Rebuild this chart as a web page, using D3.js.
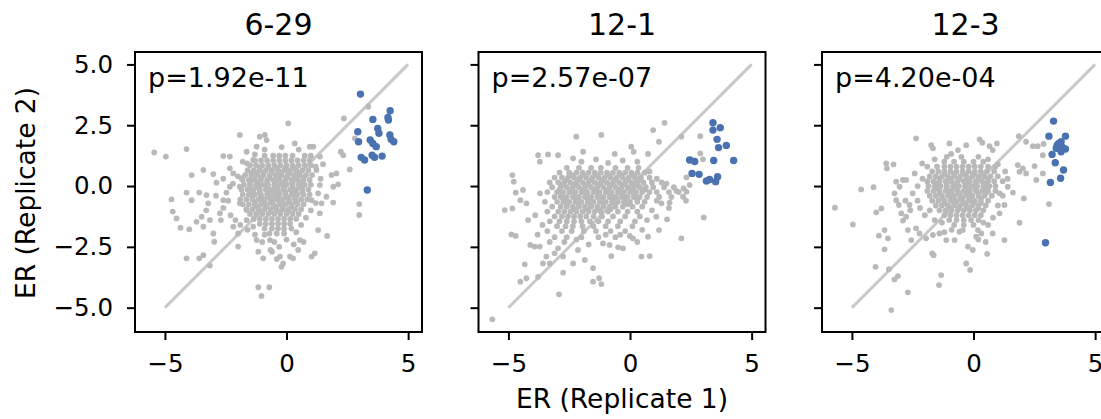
<!DOCTYPE html>
<html>
<head>
<meta charset="utf-8">
<script src="https://cdn.jsdelivr.net/npm/d3@7"></script>
<style>
  body { margin: 0; background: #fff; }
  text { font-family: 'DejaVu Sans', sans-serif; fill: #000; }
</style>
</head>
<body>
<div id="chart"></div>
<script>
// panel titles, p values and tick values
const panelTitles = ['6-29', '12-1', '12-3'];
const pLabels = ['p=1.92e-11', 'p=2.57e-07', 'p=4.20e-04'];
const xTicks = [-5, 0, 5];
const yTicks = [-5, -2.5, 0, 2.5, 5];
const diagonal = [[-5, -5], [5, 5]];

// 6-29: gray = all guides, blue = hits
const gray629 = [
    [-5.44, 1.38], [-4.96, 1.21], [-4.11, 1.52], [-4.73, -0.55], [-4.68, -1.05], [-4.52, -1.33],
    [-4.36, -1.71], [-4.0, -1.78], [-4.11, -2.97], [-3.59, -2.97], [-3.42, -2.84], [-3.15, -3.27],
    [-3.9, 0.45], [-4.11, -0.27], [-3.9, -0.58], [-3.42, 0.66], [-3.59, -0.27], [-3.01, 0.49],
    [-2.88, 0.14], [-3.29, -0.37], [-3.22, -0.71], [-3.49, -1.26], [-3.7, -1.47], [-3.42, -1.67],
    [-3.15, -1.4], [-3.01, -1.95], [-2.97, -2.29], [-2.74, -1.12], [-2.6, -0.58], [-2.47, -0.27],
    [-2.6, 1.23], [-2.33, 1.21], [-1.92, 2.1], [-1.64, 1.41], [-1.62, 0.93], [-2.19, 0.52],
    [-2.19, -1.67], [-1.99, -1.95], [-1.99, -2.49], [-1.23, 1.62], [-1.1, 2.03], [-0.89, 2.1],
    [-0.82, 1.89], [-1.23, -2.22], [-1.16, -2.7], [-0.96, -2.97], [-0.68, -2.22], [-0.66, -2.63],
    [-0.27, -2.9], [-0.21, -3.32], [-0.14, -3.18], [0.14, -2.9], [0.27, -2.97], [0.48, -2.63],
    [0.55, -2.22], [1.03, -2.9], [1.16, -2.77], [1.37, -1.12], [1.67, -2.05], [1.3, -1.81],
    [-1.16, -4.16], [-0.71, -4.16], [-1.03, -4.52], [0.07, 2.58], [0.34, 1.75], [0.96, 1.62],
    [1.1, 1.62], [1.37, 1.21], [1.85, 0.45], [1.92, -0.03], [2.12, 0.07], [1.92, -0.68],
    [2.23, 1.41], [2.33, 1.27], [2.36, 2.78], [2.6, 0.68], [2.81, 1.96], [2.99, -0.74],
    [2.99, -1.19], [3.36, 3.26], [2.05, 0.52], [1.23, 0.66], [1.37, 0.04], [1.44, -0.71],
    [1.03, -0.58], [1.64, -0.44], [-2.33, 0.73], [-2.33, -0.03], [-1.92, -0.03], [-1.92, -0.71],
    [-1.64, -0.99], [-1.64, -1.4], [-1.37, -1.67], [-1.44, 0.52], [-1.37, 1.07], [-1.85, 0.32],
    [-2.6, -0.9], [-2.3, -1.2], [-2.1, -1.4], [-2.4, -0.6], [-2.2, 0.1], [-2.0, 0.4],
    [-1.9, -1.6], [-1.6, -1.8], [-1.3, -2.0], [-1.0, -2.3], [-0.9, -2.0], [-0.5, -2.3],
    [-0.3, -2.5], [0.0, -2.2], [0.3, -2.4], [0.4, -1.9], [0.6, -1.6], [0.8, -1.3],
    [1.0, -1.0], [1.2, -0.7], [1.3, -0.3], [1.4, 0.3], [1.2, 0.8], [1.5, 0.9],
    [0.5, 1.5], [-0.2, 1.6], [-0.9, 1.5], [-1.3, 1.3], [-1.8, 1.0], [-2.6, 0.3],
    [-2.9, -0.4], [-2.7, -1.4], [-3.3, -1.0], [-0.6, -2.7], [-0.4, -3.0], [0.7, -2.3],
    // dense centre
    [-0.9, 1.25], [-0.55, 1.25], [-0.3, 1.25], [-0.05, 1.25], [0.25, 1.25], [0.75, 1.25], [1.0, 1.25],
    [-1.3, 1.05], [-1.05, 1.05], [-0.8, 1.05], [-0.55, 1.05], [-0.3, 1.05], [-0.05, 1.05], [0.2, 1.05],
    [0.45, 1.05], [0.7, 1.05], [0.95, 1.05],
    [-1.5, 0.85], [-1.25, 0.85], [-1.0, 0.85], [-0.75, 0.85], [-0.5, 0.85], [-0.25, 0.85], [0.0, 0.85],
    [0.25, 0.85], [0.5, 0.85], [0.75, 0.85], [1.0, 0.85],
    [-1.6, 0.65], [-1.35, 0.65], [-1.1, 0.65], [-0.85, 0.65], [-0.6, 0.65], [-0.35, 0.65], [-0.1, 0.65],
    [0.15, 0.65], [0.4, 0.65], [0.65, 0.65], [0.9, 0.65],
    [-1.7, 0.45], [-1.45, 0.45], [-1.2, 0.45], [-0.95, 0.45], [-0.7, 0.45], [-0.45, 0.45], [-0.2, 0.45],
    [0.05, 0.45], [0.3, 0.45], [0.55, 0.45], [0.8, 0.45], [1.05, 0.45],
    [-1.8, 0.25], [-1.55, 0.25], [-1.3, 0.25], [-1.05, 0.25], [-0.8, 0.25], [-0.55, 0.25], [-0.3, 0.25],
    [-0.05, 0.25], [0.2, 0.25], [0.45, 0.25], [0.7, 0.25], [0.95, 0.25],
    [-1.75, 0.05], [-1.5, 0.05], [-1.25, 0.05], [-1.0, 0.05], [-0.75, 0.05], [-0.5, 0.05], [-0.25, 0.05],
    [0.0, 0.05], [0.25, 0.05], [0.5, 0.05], [0.75, 0.05], [1.0, 0.05],
    [-1.85, -0.15], [-1.6, -0.15], [-1.35, -0.15], [-1.1, -0.15], [-0.85, -0.15], [-0.6, -0.15], [-0.35, -0.15],
    [-0.1, -0.15], [0.15, -0.15], [0.4, -0.15], [0.65, -0.15], [0.9, -0.15],
    [-1.8, -0.35], [-1.55, -0.35], [-1.3, -0.35], [-1.05, -0.35], [-0.8, -0.35], [-0.55, -0.35], [-0.3, -0.35],
    [-0.05, -0.35], [0.2, -0.35], [0.45, -0.35], [0.7, -0.35], [0.95, -0.35],
    [-1.9, -0.55], [-1.65, -0.55], [-1.4, -0.55], [-1.15, -0.55], [-0.9, -0.55], [-0.65, -0.55], [-0.4, -0.55],
    [-0.15, -0.55], [0.1, -0.55], [0.35, -0.55], [0.6, -0.55], [0.85, -0.55],
    [-1.8, -0.75], [-1.55, -0.75], [-1.3, -0.75], [-1.05, -0.75], [-0.8, -0.75], [-0.55, -0.75], [-0.3, -0.75],
    [-0.05, -0.75], [0.2, -0.75], [0.45, -0.75], [0.7, -0.75],
    [-1.65, -0.95], [-1.4, -0.95], [-1.15, -0.95], [-0.9, -0.95], [-0.65, -0.95], [-0.4, -0.95], [-0.15, -0.95],
    [0.1, -0.95], [0.35, -0.95], [0.6, -0.95],
    [-1.5, -1.15], [-1.25, -1.15], [-1.0, -1.15], [-0.75, -1.15], [-0.5, -1.15], [-0.25, -1.15], [0.0, -1.15],
    [0.25, -1.15], [0.5, -1.15],
    [-1.35, -1.35], [-1.1, -1.35], [-0.85, -1.35], [-0.6, -1.35], [-0.35, -1.35], [-0.1, -1.35], [0.15, -1.35],
    [0.4, -1.35],
    [-1.1, -1.55], [-0.85, -1.55], [-0.6, -1.55], [-0.35, -1.55], [-0.1, -1.55], [0.15, -1.55],
    [-0.9, -1.75], [-0.6, -1.75], [-0.35, -1.75], [-0.1, -1.75], [0.2, -1.75],
    [-0.7, -1.95], [-0.4, -1.95], [-0.1, -1.95],
    // overlapping points in the middle of the cloud
    [-1.1, 0.75], [-0.75, 0.75], [-0.4, 0.75], [-0.05, 0.75], [0.3, 0.75],
    [-1.3, 0.55], [-0.95, 0.55], [-0.6, 0.55], [-0.25, 0.55], [0.1, 0.55], [0.45, 0.55],
    [-1.4, 0.35], [-1.05, 0.35], [-0.7, 0.35], [-0.35, 0.35], [0.0, 0.35], [0.35, 0.35], [0.7, 0.35],
    [-1.5, 0.15], [-1.15, 0.15], [-0.8, 0.15], [-0.45, 0.15], [-0.1, 0.15], [0.25, 0.15], [0.6, 0.15],
    [-1.5, -0.05], [-1.15, -0.05], [-0.8, -0.05], [-0.45, -0.05], [-0.1, -0.05], [0.25, -0.05], [0.6, -0.05],
    [-1.45, -0.25], [-1.1, -0.25], [-0.75, -0.25], [-0.4, -0.25], [-0.05, -0.25], [0.3, -0.25], [0.65, -0.25],
    [-1.4, -0.45], [-1.05, -0.45], [-0.7, -0.45], [-0.35, -0.45], [0.0, -0.45], [0.35, -0.45],
    [-1.3, -0.65], [-0.95, -0.65], [-0.6, -0.65], [-0.25, -0.65], [0.1, -0.65], [0.4, -0.65],
    [-1.2, -0.85], [-0.85, -0.85], [-0.5, -0.85], [-0.15, -0.85], [0.2, -0.85],
    [-1.0, -1.05], [-0.65, -1.05], [-0.3, -1.05], [0.05, -1.05]
];
const blue629 = [
    [3.04, 3.78], [4.26, 3.1], [3.55, 2.74], [4.17, 2.82], [4.19, 2.71], [3.75, 2.37], [2.93, 2.23],
    [3.8, 2.17], [2.96, 1.82], [3.44, 1.89], [3.55, 1.75], [3.69, 1.62], [4.25, 2.1], [4.3, 1.92],
    [4.41, 1.82], [3.07, 1.18], [3.21, 1.07], [3.52, 1.27], [3.62, 1.18], [3.93, 1.23], [3.32, -0.16]
];

// 12-1
const gray121 = [
    [-5.66, -5.48], [-5.15, -0.99], [-4.84, -0.92], [-4.88, -1.99], [-4.7, -2.05], [-4.51, -3.93],
    [-4.26, -3.79], [-4.33, -3.22], [-4.84, 0.45], [-4.78, 0.18], [-4.7, -0.27], [-4.51, -0.58],
    [-4.4, -0.16], [-4.26, -0.71], [-4.19, -1.4], [-4.1, -2.42], [-3.92, -2.49], [-3.78, -3.73],
    [-3.78, 1.27], [-3.71, 1.0], [-3.37, 1.3], [-2.96, 1.27], [-2.92, -4.45], [-2.75, -3.56],
    [-2.21, 2.03], [-2.34, 1.14], [-1.93, 1.41], [-1.18, 2.1], [-0.63, 1.32], [0.05, 1.62],
    [0.15, 1.41], [0.74, 1.32], [0.95, 2.3], [1.42, 2.6], [1.19, 1.82], [2.11, 2.03],
    [2.89, 2.05], [2.89, 1.34], [3.0, 1.1], [2.52, 1.1], [2.32, 0.36], [2.45, 0.04],
    [2.32, -0.23], [2.18, -0.44], [3.03, -1.29], [2.11, -2.15], [1.52, -1.37], [1.29, -0.71],
    [1.63, -0.68], [1.08, -1.26], [1.19, -1.81], [0.74, -2.08], [0.81, -2.88], [0.47, -2.9],
    [0.12, -2.15], [-0.49, -2.52], [-0.77, -2.88], [-1.52, -3.38], [-1.27, -3.79], [-1.18, -4.03],
    [-1.52, -3.93], [-1.86, -3.04], [-2.34, -3.18], [-2.14, -2.63], [-3.3, -3.18], [-2.75, -2.9],
    [-3.1, -2.77], [-3.58, -3.18], [-3.44, -2.9], [-3.71, -2.49], [-2.96, -2.56], [-1.11, -2.36],
    [-0.84, -2.42], [-0.29, -2.56], [-0.01, -2.05],
    [-2.0, 1.0], [-1.4, 1.1], [-0.9, 0.95], [-0.3, 1.05], [0.3, 1.0], [0.8, 0.6],
    [1.1, 0.3], [1.5, 0.1], [1.9, -0.2], [2.2, -0.1], [2.3, -0.6], [1.6, -0.9],
    [1.1, -0.6], [0.9, -1.0], [0.7, -1.4], [0.5, -1.8], [-3.7, -0.3], [-3.9, -1.2],
    [-3.6, -1.6], [-3.8, -2.0], [-3.3, -2.3], [-2.7, -2.3], [-2.2, -2.2], [-1.7, -2.4],
    [-1.0, -2.0], [-0.4, -2.0], [0.3, -2.3],
    // dense centre
    [-2.6, 0.75], [-2.1, 0.75], [-1.6, 0.75], [-1.2, 0.75], [-0.6, 0.75], [-0.1, 0.75], [0.35, 0.75],
    [-2.9, 0.55], [-2.5, 0.55], [-2.2, 0.55], [-1.95, 0.55], [-1.7, 0.55], [-1.45, 0.55], [-1.2, 0.55],
    [-0.95, 0.55], [-0.7, 0.55], [-0.45, 0.55], [-0.2, 0.55], [0.05, 0.55], [0.3, 0.55], [0.6, 0.55],
    [-3.1, 0.35], [-2.8, 0.35], [-2.55, 0.35], [-2.3, 0.35], [-2.05, 0.35], [-1.8, 0.35], [-1.55, 0.35],
    [-1.3, 0.35], [-1.05, 0.35], [-0.8, 0.35], [-0.55, 0.35], [-0.3, 0.35], [-0.05, 0.35], [0.2, 0.35],
    [0.45, 0.35], [0.8, 0.35],
    [-3.3, 0.15], [-2.95, 0.15], [-2.7, 0.15], [-2.45, 0.15], [-2.2, 0.15], [-1.95, 0.15], [-1.7, 0.15],
    [-1.45, 0.15], [-1.2, 0.15], [-0.95, 0.15], [-0.7, 0.15], [-0.45, 0.15], [-0.2, 0.15], [0.05, 0.15],
    [0.3, 0.15], [0.55, 0.15], [0.9, 0.15], [1.3, 0.15],
    [-3.2, -0.05], [-2.85, -0.05], [-2.6, -0.05], [-2.35, -0.05], [-2.1, -0.05], [-1.85, -0.05], [-1.6, -0.05],
    [-1.35, -0.05], [-1.1, -0.05], [-0.85, -0.05], [-0.6, -0.05], [-0.35, -0.05], [-0.1, -0.05], [0.15, -0.05],
    [0.4, -0.05], [0.65, -0.05], [0.95, -0.05], [1.4, -0.05], [1.8, -0.05],
    [-3.4, -0.25], [-3.0, -0.25], [-2.75, -0.25], [-2.5, -0.25], [-2.25, -0.25], [-2.0, -0.25], [-1.75, -0.25],
    [-1.5, -0.25], [-1.25, -0.25], [-1.0, -0.25], [-0.75, -0.25], [-0.5, -0.25], [-0.25, -0.25], [0.0, -0.25],
    [0.25, -0.25], [0.5, -0.25], [0.8, -0.25], [1.1, -0.25], [1.6, -0.25], [2.0, -0.25],
    [-3.1, -0.45], [-2.85, -0.45], [-2.6, -0.45], [-2.35, -0.45], [-2.1, -0.45], [-1.85, -0.45], [-1.6, -0.45],
    [-1.35, -0.45], [-1.1, -0.45], [-0.85, -0.45], [-0.6, -0.45], [-0.35, -0.45], [-0.1, -0.45], [0.15, -0.45],
    [0.4, -0.45], [0.7, -0.45], [1.2, -0.45], [1.7, -0.45],
    [-3.5, -0.65], [-3.0, -0.65], [-2.75, -0.65], [-2.5, -0.65], [-2.25, -0.65], [-2.0, -0.65], [-1.75, -0.65],
    [-1.5, -0.65], [-1.25, -0.65], [-1.0, -0.65], [-0.75, -0.65], [-0.5, -0.65], [-0.25, -0.65], [0.0, -0.65],
    [0.3, -0.65], [0.6, -0.65],
    [-3.2, -0.85], [-2.85, -0.85], [-2.6, -0.85], [-2.35, -0.85], [-2.1, -0.85], [-1.85, -0.85], [-1.6, -0.85],
    [-1.35, -0.85], [-1.1, -0.85], [-0.85, -0.85], [-0.6, -0.85], [-0.3, -0.85], [0.1, -0.85], [0.5, -0.85],
    [-3.4, -1.05], [-2.95, -1.05], [-2.7, -1.05], [-2.45, -1.05], [-2.2, -1.05], [-1.95, -1.05], [-1.7, -1.05],
    [-1.45, -1.05], [-1.2, -1.05], [-0.9, -1.05], [-0.5, -1.05], [-0.1, -1.05], [0.3, -1.05],
    [-3.1, -1.25], [-2.8, -1.25], [-2.55, -1.25], [-2.3, -1.25], [-2.05, -1.25], [-1.8, -1.25], [-1.5, -1.25],
    [-1.15, -1.25], [-0.7, -1.25], [-0.2, -1.25], [0.4, -1.25],
    [-3.3, -1.45], [-2.9, -1.45], [-2.6, -1.45], [-2.3, -1.45], [-2.0, -1.45], [-1.65, -1.45], [-1.3, -1.45],
    [-0.9, -1.45], [-0.4, -1.45], [0.2, -1.45],
    [-3.0, -1.65], [-2.65, -1.65], [-2.35, -1.65], [-1.95, -1.65], [-1.5, -1.65], [-1.0, -1.65], [-0.5, -1.65],
    [0.1, -1.65],
    [-3.4, -1.85], [-2.8, -1.85], [-2.4, -1.85], [-1.9, -1.85], [-1.4, -1.85], [-0.8, -1.85], [-0.2, -1.85],
    [-3.1, -2.1], [-2.6, -2.1], [-2.0, -2.1], [-1.3, -2.1], [-0.6, -2.1],
    // overlapping points in the middle of the cloud
    [-2.4, 0.45], [-1.9, 0.45], [-1.4, 0.45], [-0.9, 0.45], [-0.4, 0.45], [0.1, 0.45],
    [-2.6, 0.25], [-2.1, 0.25], [-1.6, 0.25], [-1.1, 0.25], [-0.6, 0.25], [-0.1, 0.25], [0.4, 0.25],
    [-2.8, 0.05], [-2.3, 0.05], [-1.8, 0.05], [-1.3, 0.05], [-0.8, 0.05], [-0.3, 0.05], [0.2, 0.05],
    [-2.9, -0.15], [-2.4, -0.15], [-1.9, -0.15], [-1.4, -0.15], [-0.9, -0.15], [-0.4, -0.15], [0.1, -0.15], [0.6, -0.15],
    [-2.8, -0.35], [-2.3, -0.35], [-1.8, -0.35], [-1.3, -0.35], [-0.8, -0.35], [-0.3, -0.35], [0.2, -0.35],
    [-2.7, -0.55], [-2.2, -0.55], [-1.7, -0.55], [-1.2, -0.55], [-0.7, -0.55], [-0.2, -0.55], [0.3, -0.55],
    [-2.6, -0.75], [-2.1, -0.75], [-1.6, -0.75], [-1.1, -0.75], [-0.6, -0.75], [-0.1, -0.75],
    [-2.3, -0.95], [-1.8, -0.95], [-1.3, -0.95], [-0.8, -0.95]
];
const blue121 = [
    [3.41, 2.6], [3.71, 2.4], [3.41, 2.3], [3.58, 1.92], [3.96, 1.67], [3.64, 1.58], [2.45, 1.07],
    [2.66, 1.01], [3.44, 1.05], [4.26, 1.05], [2.55, 0.52], [2.84, 0.48], [3.14, 0.21], [3.27, 0.27],
    [3.52, 0.18], [3.6, 0.38]
];

// 12-3
const gray123 = [
    [-5.7, -0.89], [-4.96, -1.58], [-4.62, -0.14], [-4.11, -0.05], [-4.0, -1.08], [-3.79, -0.92],
    [-3.89, -2.04], [-3.66, -1.81], [-3.52, -2.15], [-3.66, -2.6], [-4.03, -3.32], [-3.48, -3.42],
    [-3.25, -3.84], [-3.11, -3.7], [-3.38, -5.1], [-2.7, -4.37], [-3.59, 0.93], [-3.56, 0.73],
    [-3.29, 0.89], [-3.18, 0.18], [-3.04, -0.03], [-3.25, -0.3], [-3.18, -0.58], [-2.9, 0.25],
    [-2.77, 0.25], [-2.97, -1.12], [-2.77, -1.26], [-2.9, -1.42], [-3.07, -0.78], [-2.63, -0.78],
    [-2.7, -1.81], [-2.36, -1.74], [-2.22, -1.95], [-2.56, -2.22], [-2.36, 1.96], [-2.42, 0.52],
    [-2.11, 0.93], [-1.74, 1.68], [-1.67, 1.55], [-0.99, 1.75], [-0.92, 1.32], [-0.64, 1.48],
    [-0.3, 1.68], [0.25, 1.92], [0.36, 1.78], [0.66, 1.64], [0.96, 1.75], [0.79, 1.48],
    [1.86, 2.05], [2.16, 1.82], [2.44, 1.64], [2.64, 1.64], [2.88, 1.73], [2.85, 1.27],
    [1.82, 0.86], [1.89, 0.59], [2.16, 0.52], [2.03, 0.73], [2.51, 0.82], [2.85, 0.52],
    [2.58, 0.25], [1.62, -0.27], [2.07, -0.51], [3.1, -0.74], [1.89, -1.51], [1.27, -2.22],
    [0.56, -2.79], [-0.14, -3.45], [-0.3, -3.18], [-1.33, -3.66], [-1.42, -4.07], [-1.7, -2.77],
    [-1.64, -2.84], [-1.12, -2.22], [-0.78, -2.22], [-0.23, -2.49], [-0.03, -2.63], [0.32, -1.95],
    [0.11, -2.08], [0.18, -1.81], [0.79, -1.95], [1.07, -1.12], [1.27, -0.78], [1.41, -0.03],
    [1.07, -0.3], [-1.95, -2.15], [-1.67, -2.01], [-1.4, -1.95], [-0.44, -1.81], [-0.58, -1.88],
    [-2.5, -0.3], [-2.3, -0.6], [-2.2, -0.9], [-2.0, -1.2], [-2.1, 0.3], [-2.3, 0.0],
    [-1.9, 0.8], [-1.6, 1.1], [-1.1, 1.2], [-0.5, 1.2], [0.2, 1.2], [0.6, 1.1],
    [1.0, 0.9], [1.3, 0.6], [1.4, 0.3], [1.2, -0.4], [1.0, -0.8], [0.8, -1.3],
    [0.6, -1.6], [0.4, -1.5], [-1.6, -1.4], [-1.8, -1.0], [-1.3, -1.5], [-0.9, -1.8],
    [-1.2, -1.9], [0.2, -2.2], [0.5, -2.3], [-2.6, -1.0], [-2.8, -0.6],
    // dense centre
    [-1.2, 1.0], [-0.8, 1.0], [-0.4, 1.0], [0.0, 1.0], [0.4, 1.0],
    [-1.5, 0.8], [-1.2, 0.8], [-0.95, 0.8], [-0.7, 0.8], [-0.45, 0.8], [-0.2, 0.8], [0.05, 0.8],
    [0.3, 0.8], [0.6, 0.8], [0.9, 0.8],
    [-1.7, 0.6], [-1.45, 0.6], [-1.2, 0.6], [-0.95, 0.6], [-0.7, 0.6], [-0.45, 0.6], [-0.2, 0.6],
    [0.05, 0.6], [0.3, 0.6], [0.55, 0.6], [0.85, 0.6],
    [-1.8, 0.4], [-1.55, 0.4], [-1.3, 0.4], [-1.05, 0.4], [-0.8, 0.4], [-0.55, 0.4], [-0.3, 0.4],
    [-0.05, 0.4], [0.2, 0.4], [0.45, 0.4], [0.7, 0.4], [1.0, 0.4],
    [-1.9, 0.2], [-1.65, 0.2], [-1.4, 0.2], [-1.15, 0.2], [-0.9, 0.2], [-0.65, 0.2], [-0.4, 0.2],
    [-0.15, 0.2], [0.1, 0.2], [0.35, 0.2], [0.6, 0.2], [0.85, 0.2], [1.2, 0.2],
    [-1.85, 0.0], [-1.6, 0.0], [-1.35, 0.0], [-1.1, 0.0], [-0.85, 0.0], [-0.6, 0.0], [-0.35, 0.0],
    [-0.1, 0.0], [0.15, 0.0], [0.4, 0.0], [0.65, 0.0], [0.9, 0.0],
    [-1.9, -0.2], [-1.65, -0.2], [-1.4, -0.2], [-1.15, -0.2], [-0.9, -0.2], [-0.65, -0.2], [-0.4, -0.2],
    [-0.15, -0.2], [0.1, -0.2], [0.35, -0.2], [0.6, -0.2], [0.9, -0.2],
    [-1.8, -0.4], [-1.55, -0.4], [-1.3, -0.4], [-1.05, -0.4], [-0.8, -0.4], [-0.55, -0.4], [-0.3, -0.4],
    [-0.05, -0.4], [0.2, -0.4], [0.45, -0.4], [0.75, -0.4],
    [-1.7, -0.6], [-1.45, -0.6], [-1.2, -0.6], [-0.95, -0.6], [-0.7, -0.6], [-0.45, -0.6], [-0.2, -0.6],
    [0.05, -0.6], [0.3, -0.6], [0.6, -0.6],
    [-1.55, -0.8], [-1.3, -0.8], [-1.05, -0.8], [-0.8, -0.8], [-0.55, -0.8], [-0.3, -0.8], [-0.05, -0.8],
    [0.2, -0.8], [0.5, -0.8],
    [-1.4, -1.0], [-1.15, -1.0], [-0.9, -1.0], [-0.65, -1.0], [-0.4, -1.0], [-0.15, -1.0], [0.1, -1.0],
    [0.4, -1.0],
    [-1.2, -1.2], [-0.95, -1.2], [-0.7, -1.2], [-0.45, -1.2], [-0.2, -1.2], [0.05, -1.2], [0.3, -1.2],
    [-1.0, -1.4], [-0.7, -1.4], [-0.4, -1.4], [-0.1, -1.4], [0.2, -1.4],
    [-0.8, -1.6], [-0.4, -1.6], [0.0, -1.6],
    // overlapping points in the middle of the cloud
    [-1.2, 0.5], [-0.8, 0.5], [-0.4, 0.5], [0.0, 0.5], [0.4, 0.5],
    [-1.4, 0.3], [-1.0, 0.3], [-0.6, 0.3], [-0.2, 0.3], [0.2, 0.3], [0.6, 0.3],
    [-1.5, 0.1], [-1.1, 0.1], [-0.7, 0.1], [-0.3, 0.1], [0.1, 0.1], [0.5, 0.1],
    [-1.5, -0.1], [-1.1, -0.1], [-0.7, -0.1], [-0.3, -0.1], [0.1, -0.1], [0.5, -0.1],
    [-1.4, -0.3], [-1.0, -0.3], [-0.6, -0.3], [-0.2, -0.3], [0.2, -0.3], [0.5, -0.3],
    [-1.3, -0.5], [-0.9, -0.5], [-0.5, -0.5], [-0.1, -0.5], [0.3, -0.5],
    [-1.2, -0.7], [-0.8, -0.7], [-0.4, -0.7], [0.0, -0.7], [0.3, -0.7],
    [-1.0, -0.9], [-0.6, -0.9], [-0.2, -0.9], [0.2, -0.9]
];
const blue123 = [
    [3.29, 2.67], [3.1, 2.05], [3.78, 2.05], [3.6, 1.82], [3.44, 1.68], [3.4, 1.55], [3.78, 1.52],
    [3.6, 1.41], [3.23, 1.3], [3.36, 0.96], [3.7, 0.66], [3.58, 0.32], [3.16, 0.15], [2.96, -2.33],
    [3.5, 1.75], [3.65, 1.6]
];

// layout
const PANEL_W = 287;
const PANEL_H = 280;
const PANEL_TOP = 52;
const PANEL_LEFT = [135, 478.5, 822];

let svg = d3.select('#chart')
    .append('svg')
    .attr('width', 1101)
    .attr('height', 419);

let x = d3.scaleLinear().domain([-6.23, 5.57]).range([0, PANEL_W]);
let y = d3.scaleLinear().domain([-6.0, 5.51]).range([PANEL_H, 0]);

function drawPanel(i, grayPoints, bluePoints) {
    let g = svg.append('g')
        .attr('transform', 'translate(' + PANEL_LEFT[i] + ',' + PANEL_TOP + ')');

    // y = x reference line
    g.append('path')
        .datum(diagonal)
        .attr('fill', 'none')
        .attr('stroke', '#c8c8c8')
        .attr('stroke-width', 3)
        .attr('d', d3.line().x((d) => x(d[0])).y((d) => y(d[1])));

    g.append('g')
        .selectAll('circle')
        .data(grayPoints)
        .join('circle')
        .attr('cx', (d) => x(d[0]))
        .attr('cy', (d) => y(d[1]))
        .attr('r', 2.9)
        .attr('fill', '#b9b9b9');

    g.append('g')
        .selectAll('circle')
        .data(bluePoints)
        .join('circle')
        .attr('cx', (d) => x(d[0]))
        .attr('cy', (d) => y(d[1]))
        .attr('r', 3.7)
        .attr('fill', '#4a72b0');

    // axes
    let xAxis = g.append('g')
        .attr('transform', 'translate(0,' + PANEL_H + ')')
        .call(d3.axisBottom(x).tickValues(xTicks).tickSize(8).tickSizeOuter(0)
            .tickPadding(15).tickFormat(d3.format('d')));

    let yAxis = g.append('g')
        .call(d3.axisLeft(y).tickValues(yTicks).tickSize(8).tickSizeOuter(0)
            .tickPadding(14).tickFormat(i === 0 ? d3.format('.1f') : () => ''));

    [xAxis, yAxis].forEach((a) => {
        a.select('.domain').remove();
        a.attr('font-size', 24.5).attr('font-family', "'DejaVu Sans', sans-serif");
        a.selectAll('line').attr('stroke', '#000').attr('stroke-width', 2);
    });

    // frame
    g.append('rect')
        .attr('width', PANEL_W)
        .attr('height', PANEL_H)
        .attr('fill', 'none')
        .attr('stroke', '#000')
        .attr('stroke-width', 2);

    g.append('text')
        .attr('x', PANEL_W / 2)
        .attr('y', 35 - PANEL_TOP)
        .attr('text-anchor', 'middle')
        .style('font-size', '30px')
        .text(panelTitles[i]);

    g.append('text')
        .attr('x', 13)
        .attr('y', 87 - PANEL_TOP)
        .style('font-size', '27px')
        .text(pLabels[i]);
}

drawPanel(0, gray629, blue629);
drawPanel(1, gray121, blue121);
drawPanel(2, gray123, blue123);

// shared axis labels
svg.append('text')
    .attr('transform', 'translate(35,193) rotate(-90)')
    .attr('text-anchor', 'middle')
    .style('font-size', '26.5px')
    .text('ER (Replicate 2)');

svg.append('text')
    .attr('x', PANEL_LEFT[1] + PANEL_W / 2)
    .attr('y', 408)
    .attr('text-anchor', 'middle')
    .style('font-size', '26.5px')
    .text('ER (Replicate 1)');
</script>
</body>
</html>
